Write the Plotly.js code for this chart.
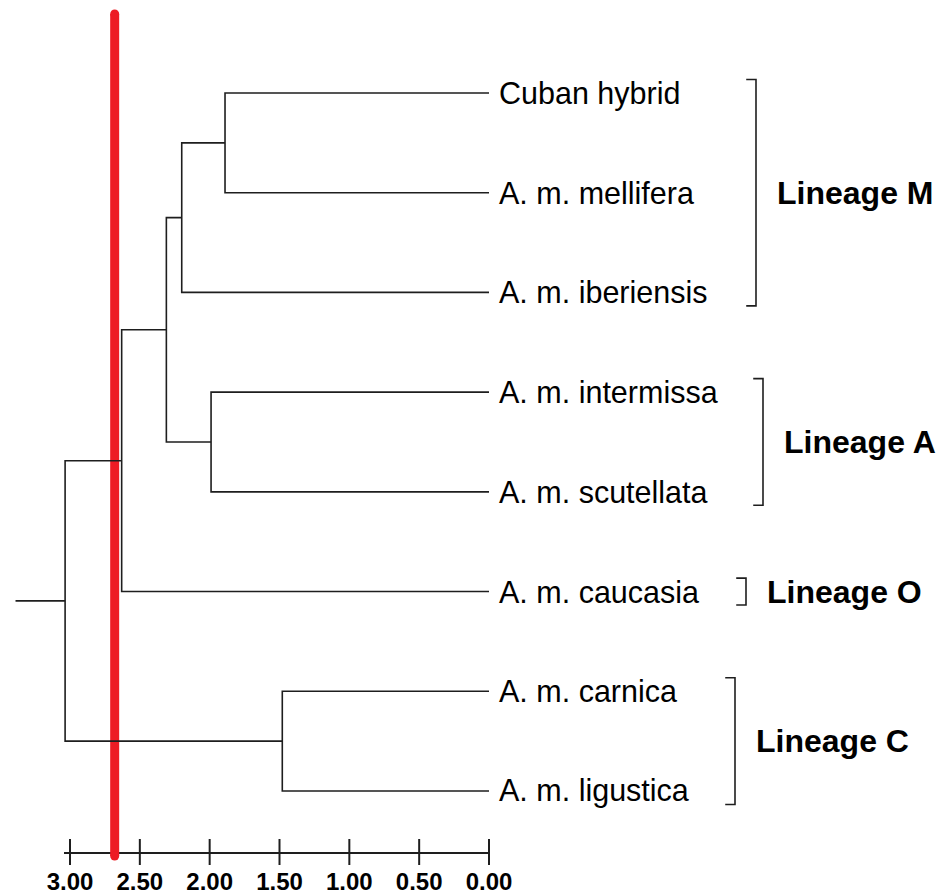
<!DOCTYPE html>
<html>
<head>
<meta charset="utf-8">
<script src="https://cdn.plot.ly/plotly-3.0.1.min.js"></script>
<style>html,body{margin:0;padding:0;background:#fff}#chart{width:947px;height:895px}</style>
</head>
<body>
<div id="chart"></div>
<script>
// ---- data ----
const leaves = ["Cuban hybrid", "A. m. mellifera", "A. m. iberiensis", "A. m. intermissa",
                "A. m. scutellata", "A. m. caucasia", "A. m. carnica", "A. m. ligustica"];
// linkage: node ids < leaves.length are leaves, otherwise leaves.length + merge index
const mergeA = [0, 8, 3, 9, 11, 6, 12];
const mergeB = [1, 2, 4, 10, 5, 7, 13];
const mergeHeight = [1.89, 2.20, 1.99, 2.31, 2.63, 1.48, 3.035];
const rootStemEnd = 3.39;
const cutoff = 2.68;
const tickValues = [3.0, 2.5, 2.0, 1.5, 1.0, 0.5, 0.0];
const tickLabels = ["3.00", "2.50", "2.00", "1.50", "1.00", "0.50", "0.00"];
const groupNames = ["Lineage M", "Lineage A", "Lineage O", "Lineage C"];
const groupFirst = [0, 3, 5, 6];
const groupLast = [2, 4, 5, 7];

// ---- layout constants (positions / styles) ----
const W = 947, H = 895, plotBottomPx = 865;
const pxPerX = 139.67, x0px = 489;          // value 0 at pixel 489
const pxPerY = 99.71, y0px = 93;            // leaf 0 at pixel 93
const xr = [ x0px / pxPerX, -(W - x0px) / pxPerX ];
const yr = [ (plotBottomPx - y0px) / pxPerY, -y0px / pxPerY ];
const pxToY = p => (p - y0px) / pxPerY;
const pxToX = p => (x0px - p) / pxPerX;
const axisLineY = pxToY(853);
const axisStart = pxToX(64);
const bracketXpx = [756, 763, 746, 735];
const bracketPad = 0.135;
const bracketTick = 0.07;
const LINE = '#1e1e1e';
const FONT = 'Liberation Sans, Arial, sans-serif';

// ---- build dendrogram ----
const n = leaves.length;
const nodeX = [], nodeY = [];
for (let i = 0; i < n; i++) { nodeX[i] = 0; nodeY[i] = i; }
const tx = [], ty = [];
for (let k = 0; k < mergeA.length; k++) {
  const a = mergeA[k], b = mergeB[k], h = mergeHeight[k];
  tx.push(nodeX[a], h, h, nodeX[b], null);
  ty.push(nodeY[a], nodeY[a], nodeY[b], nodeY[b], null);
  nodeX[n + k] = h;
  nodeY[n + k] = (nodeY[a] + nodeY[b]) / 2;
}
const root = n + mergeA.length - 1;
tx.push(nodeX[root], rootStemEnd, null);
ty.push(nodeY[root], nodeY[root], null);

const traces = [];
// axis line + crossing ticks
traces.push({x: [axisStart, tickValues[tickValues.length - 1]], y: [axisLineY, axisLineY],
  mode: 'lines', line: {color: LINE, width: 2}, hoverinfo: 'skip', showlegend: false});
traces.push({x: tickValues, y: tickValues.map(() => axisLineY), mode: 'markers',
  marker: {symbol: 'line-ns-open', size: 20, color: LINE, line: {color: LINE, width: 2}},
  hoverinfo: 'skip', showlegend: false});
// red cutoff line
traces.push({x: [cutoff, cutoff], y: [pxToY(14), pxToY(856)], mode: 'lines+markers',
  line: {color: '#ed1c24', width: 9}, marker: {color: '#ed1c24', size: 9},
  hoverinfo: 'skip', showlegend: false, cliponaxis: false});
// tree
traces.push({x: tx, y: ty, mode: 'lines', line: {color: LINE, width: 1.6},
  hoverinfo: 'skip', showlegend: false});
// brackets
const bx = [], by = [];
for (let g = 0; g < groupNames.length; g++) {
  const xb = pxToX(bracketXpx[g]);
  const yt = groupFirst[g] - bracketPad, yb = groupLast[g] + bracketPad;
  bx.push(xb + bracketTick, xb, xb, xb + bracketTick, null);
  by.push(yt, yt, yb, yb, null);
}
traces.push({x: bx, y: by, mode: 'lines', line: {color: LINE, width: 1.6},
  hoverinfo: 'skip', showlegend: false});

const annotations = [];
leaves.forEach((name, i) => annotations.push({
  x: 0, y: i, xref: 'x', yref: 'y', text: name, showarrow: false,
  xanchor: 'left', yanchor: 'middle', xshift: 8,
  font: {family: FONT, size: 30.5, color: '#000'}
}));
groupNames.forEach((name, g) => annotations.push({
  x: pxToX(bracketXpx[g]), y: (groupFirst[g] + groupLast[g]) / 2, xref: 'x', yref: 'y',
  text: '<b>' + name + '</b>', showarrow: false, xanchor: 'left', yanchor: 'middle', xshift: 19,
  font: {family: FONT, size: 32, color: '#000'}
}));

const layout = {
  width: W, height: H,
  margin: {l: 0, r: 0, t: 0, b: H - plotBottomPx, pad: 0},
  paper_bgcolor: '#fff', plot_bgcolor: '#fff',
  showlegend: false,
  xaxis: {range: xr, showgrid: false, zeroline: false, showline: false, ticks: '',
    tickmode: 'array', tickvals: tickValues, ticktext: tickLabels,
    tickfont: {family: FONT, size: 24, color: '#000', weight: 'bold'},
    ticklabelstandoff: 0, fixedrange: true},
  yaxis: {range: yr, showgrid: false, zeroline: false, showline: false, ticks: '',
    showticklabels: false, fixedrange: true},
  annotations: annotations
};
Plotly.newPlot('chart', traces, layout, {staticPlot: true, displayModeBar: false});
</script>
</body>
</html>
